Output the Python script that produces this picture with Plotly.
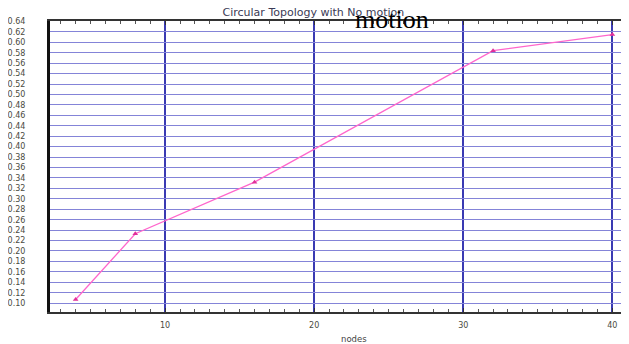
import plotly.graph_objects as go

nodes = [4, 8, 16, 32, 40]
values = [0.107, 0.233, 0.332, 0.584, 0.615]
y_ticks = [round(0.10 + 0.02 * i, 2) for i in range(28)]
y_tick_labels = [f"{v:.2f}" for v in y_ticks]
x_ticks = [10, 20, 30, 40]

# page body has an 8px margin, so figure is laid out 8px left/up of window pixels
W, H = 621, 336
L, T, R, B = 42, 13, 1, 32
PW, PH = W - L - R, H - T - B

fig = go.Figure()
fig.add_trace(go.Scatter(
    x=nodes, y=values, mode="lines+markers",
    line=dict(color="#ff66cc", width=1.3),
    marker=dict(symbol="triangle-up", size=5, color="#e0309a"),
    showlegend=False,
))

tick_font = dict(family="DejaVu Sans, Verdana, sans-serif", size=8, color="#4a4a40")

fig.update_layout(
    width=W, height=H,
    margin=dict(l=L, r=R, t=T, b=B, autoexpand=False),
    paper_bgcolor="white", plot_bgcolor="white",
    font=dict(family="DejaVu Sans, Verdana, sans-serif", size=8, color="#444444"),
    title=dict(text="Circular Topology with No motion", x=305.4 / W, xref="container",
               xanchor="center", y=1.0, yref="container", yanchor="top",
               automargin=False, pad=dict(t=0, b=0, l=0, r=0),
               font=dict(family="DejaVu Sans, Verdana, sans-serif", size=11, color="#3a3a55")),
)

fig.update_xaxes(
    range=[2.28, 41.05], tickvals=x_ticks, ticktext=[str(v) for v in x_ticks],
    showgrid=True, gridcolor="#3a3ab2", gridwidth=1.6, automargin=False,
    zeroline=False, showline=True, linecolor="#333333", linewidth=1.8, mirror="ticks",
    ticks="inside", ticklen=4, tickcolor="#333333", ticklabelstandoff=4,
    minor=dict(dtick=1, tick0=0, ticks="inside", ticklen=3, tickcolor="#555555", showgrid=False),
    tickfont=tick_font,
)

fig.update_yaxes(
    range=[0.083, 0.641], tickvals=y_ticks, ticktext=y_tick_labels,
    showgrid=True, gridcolor="#8484d8", gridwidth=1.4, automargin=False,
    zeroline=False, showline=True, linecolor="#111111", linewidth=3,
    ticks="", ticklabelstandoff=20,
    tickfont=tick_font,
)

fig.add_annotation(
    text="nodes", xref="paper", yref="paper",
    x=(346 - L) / PW, y=-(331 - (T + PH)) / PH,
    xanchor="center", yanchor="middle", showarrow=False,
    font=dict(family="DejaVu Sans, Verdana, sans-serif", size=8.5, color="#444444"),
)

fig.add_annotation(
    text="motion", xref="paper", yref="paper",
    x=(384 - L) / PW, y=1 + (T - 11) / PH,
    xanchor="center", yanchor="middle",
    showarrow=False, font=dict(family="Liberation Serif, Times New Roman, serif", size=26, color="black"),
)

fig.write_html("out.html")
